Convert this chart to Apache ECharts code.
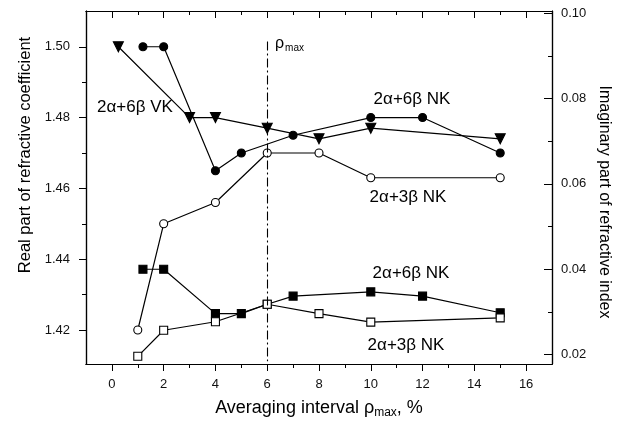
<!DOCTYPE html>
<html>
<head>
<meta charset="utf-8">
<script src="https://cdn.jsdelivr.net/npm/echarts@6/dist/echarts.min.js"></script>
<style>
  html, body { margin: 0; padding: 0; background: #fff; }
  #chart { width: 625px; height: 429px; }
</style>
</head>
<body>
<div id="chart"></div>
<script>
// real part (left axis)
const vkX = [0.25, 3, 4, 6, 8, 10, 15];
const vkY = [1.50, 1.48, 1.48, 1.477, 1.474, 1.477, 1.474];
const nk6ReX = [1.2, 2, 4, 5, 7, 10, 12, 15];
const nk6ReY = [1.50, 1.50, 1.465, 1.47, 1.475, 1.48, 1.48, 1.47];
const nk3ReX = [1, 2, 4, 6, 8, 10, 15];
const nk3ReY = [1.42, 1.45, 1.456, 1.47, 1.47, 1.463, 1.463];
// imaginary part (right axis)
const nk6ImX = [1.2, 2, 4, 5, 6, 7, 10, 12, 15];
const nk6ImY = [0.040, 0.040, 0.0296, 0.0296, 0.0318, 0.0337, 0.0347, 0.0337, 0.0298];
const nk3ImX = [1, 2, 4, 6, 8, 10, 15];
const nk3ImY = [0.0196, 0.0257, 0.0277, 0.0318, 0.0296, 0.0276, 0.0286];

const rhoMax = 6;
const xLabels = [0, 2, 4, 6, 8, 10, 12, 14, 16];
const xMinor = [1, 3, 5, 7, 9, 11, 13, 15];
const leftLabels = [1.42, 1.44, 1.46, 1.48, 1.50];
const leftMinor = [1.41, 1.43, 1.45, 1.47, 1.49];
const rightLabels = [0.02, 0.04, 0.06, 0.08, 0.10];
const rightMinor = [0.03, 0.05, 0.07, 0.09];

const FONT = "'Liberation Sans', Arial, sans-serif";
const zip = (xs, ys) => xs.map((x, i) => [x, ys[i]]);

const chart = echarts.init(document.getElementById('chart'), null, { renderer: 'canvas' });

const axisLine = { show: true, onZero: false, lineStyle: { color: '#000', width: 1.2 } };
const noLabel = { show: false };
const xRange = { min: -1, max: 17 };
const leftRange = { min: 1.4104, max: 1.5101 };
const rightRange = { min: 0.0178, max: 0.1005 };

const xBase = (pos, inside, len, values, showLabel) => ({
  type: 'value', position: pos, ...xRange,
  axisLine, splitLine: { show: false },
  axisTick: { show: true, inside, length: len, customValues: values, lineStyle: { color: '#000', width: 1 } },
  axisLabel: showLabel ? {
    customValues: values, margin: 14, color: '#111', fontSize: 13, fontFamily: FONT
  } : noLabel,
});

const yBase = (pos, range, inside, len, values, labelOpt) => ({
  type: 'value', position: pos, ...range,
  axisLine, splitLine: { show: false },
  axisTick: { show: true, inside, length: len, customValues: values, lineStyle: { color: '#000', width: 1 } },
  axisLabel: labelOpt ? { customValues: values, color: '#111', fontSize: 13, fontFamily: FONT, ...labelOpt } : noLabel,
});

const lineSeries = (name, data, yIdx, symbol, size, filled, extra) => ({
  name, type: 'line', data, xAxisIndex: 0, yAxisIndex: yIdx,
  symbol, symbolSize: size, showAllSymbol: true,
  lineStyle: { color: '#000', width: 1.2 },
  itemStyle: { color: filled ? '#000' : '#fff', borderColor: '#000', borderWidth: 1.1 },
  emphasis: { disabled: true },
  animation: false,
  ...extra,
});

const lbl = (text, x, y) => ({
  type: 'text', x, y,
  style: { text, font: '17px ' + FONT, fill: '#000', align: 'center', verticalAlign: 'middle' },
});

const option = {
  animation: false,
  grid: { left: 86, right: 73, top: 11, bottom: 65, containLabel: false },
  xAxis: [
    {
      ...xBase('bottom', false, 7, xLabels, true),
      name: '{a|Averaging interval ρ}{s|max}{a|, %}',
      nameLocation: 'middle', nameGap: 33,
      nameTextStyle: {
        rich: {
          a: { fontSize: 18, fontFamily: FONT, color: '#000' },
          s: { fontSize: 12, fontFamily: FONT, color: '#000', padding: [10, 0, 0, 0] },
        },
      },
    },
    xBase('bottom', false, 4, xMinor, false),
    xBase('top', true, 7, xLabels, false),
    xBase('top', true, 4, xMinor, false),
  ],
  yAxis: [
    yBase('left', leftRange, false, 7, leftLabels, { margin: 16, formatter: v => v.toFixed(2) }),
    yBase('left', leftRange, false, 4, leftMinor, null),
    yBase('right', rightRange, true, 8, rightLabels, { margin: 9, formatter: v => v.toFixed(2) }),
    yBase('right', rightRange, true, 4, rightMinor, null),
  ],
  series: [
    lineSeries('2α+6β VK', zip(vkX, vkY), 0, 'triangle', 10, true, {
      symbolRotate: 180,
      markLine: {
        silent: true, symbol: 'none', animation: false,
        label: { show: false },
        lineStyle: { color: '#000', width: 1.1, type: [9, 3, 2, 3] },
        data: [[{ coord: [rhoMax, 1.5015] }, { coord: [rhoMax, 1.4112] }]],
      },
    }),
    lineSeries('2α+6β NK re', zip(nk6ReX, nk6ReY), 0, 'circle', 8, true),
    lineSeries('2α+3β NK re', zip(nk3ReX, nk3ReY), 0, 'circle', 8, false),
    lineSeries('2α+6β NK im', zip(nk6ImX, nk6ImY), 2, 'rect', 8, true),
    lineSeries('2α+3β NK im', zip(nk3ImX, nk3ImY), 2, 'rect', 8, false),
  ],
  graphic: [
    { type: 'text', x: 25, y: 155, rotation: Math.PI / 2,
      style: { text: 'Real part of refractive coefficient', font: '16.5px ' + FONT, fill: '#000', align: 'center', verticalAlign: 'middle' } },
    { type: 'text', x: 604, y: 202, rotation: -Math.PI / 2,
      style: { text: 'Imaginary part of refractive index', font: '16px ' + FONT, fill: '#000', align: 'center', verticalAlign: 'middle' } },
    lbl('2α+6β VK', 135, 107),
    lbl('2α+6β NK', 412, 99),
    lbl('2α+3β NK', 408, 197),
    lbl('2α+6β NK', 411, 273),
    lbl('2α+3β NK', 406, 345),
    { type: 'text', x: 275, y: 35,
      style: {
        text: '{r|ρ}{s|max}',
        rich: {
          r: { fontSize: 16, fontFamily: FONT, fill: '#000' },
          s: { fontSize: 10, fontFamily: FONT, fill: '#000', padding: [8, 0, 0, 1] },
        },
      } },
  ],
};

chart.setOption(option);
</script>
</body>
</html>
